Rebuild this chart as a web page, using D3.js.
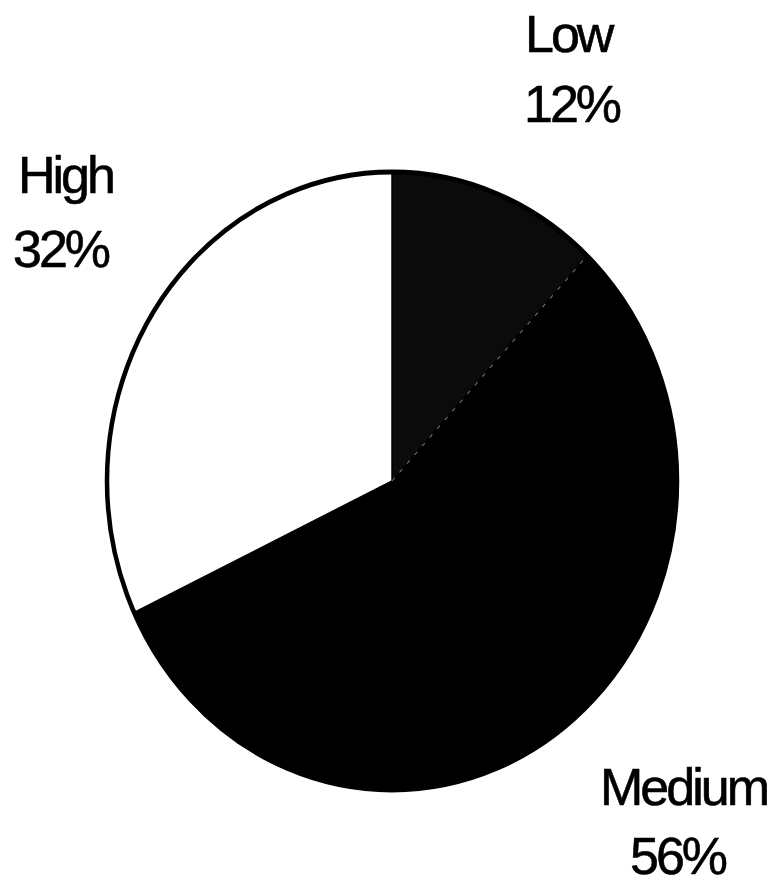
<!DOCTYPE html>
<html>
<head>
<meta charset="utf-8">
<script src="https://cdn.jsdelivr.net/npm/d3@7"></script>
<style>
  body { margin: 0; background: #fff; }
  .lbl { font-family: "Liberation Sans", Arial, Helvetica, sans-serif; font-size: 52px; letter-spacing: -3px; fill: #000; stroke: #000; stroke-width: 0.6px; }
</style>
</head>
<body>
<svg id="chart" width="773" height="886"></svg>
<script>
// data
var categories = ["Low", "Medium", "High"];
var values = [12, 56, 32];
var colors = ["#0b0b0b", "#000000", "#ffffff"];

// layout
var width = 773, height = 886;
var cx = 392, cy = 481;
var rx = 285, ry = 309;
// label anchors: [name x, name baseline, pct x, pct baseline]
var labelPos = {
  Low:    [525, 52, 524, 122],
  Medium: [600, 805, 630, 874],
  High:   [18, 193, 13, 267]
};

var svg = d3.select("#chart");

var pie = d3.pie().sort(null).value(function(d) { return d; });
var arcs = pie(values);
var arc = d3.arc().innerRadius(0).outerRadius(rx);

var g = svg.append("g")
  .attr("transform", "translate(" + cx + "," + cy + ") scale(1," + (ry / rx) + ")");

g.selectAll("path.slice").data(arcs).enter().append("path")
  .attr("class", "slice")
  .attr("d", arc)
  .style("fill", function(d, i) { return colors[i]; })
  .style("stroke", "#000")
  .style("stroke-width", 1.5);

// faint scanned edge between Low and Medium
var edge = arcs[0].endAngle;
g.append("line")
  .attr("x1", 0).attr("y1", 0)
  .attr("x2", rx * Math.sin(edge)).attr("y2", -rx * Math.cos(edge))
  .style("stroke", "#777")
  .style("stroke-width", 1)
  .style("stroke-dasharray", "4,7");

// outer border
g.append("ellipse")
  .attr("cx", 0).attr("cy", 0).attr("rx", rx).attr("ry", rx)
  .style("fill", "none")
  .style("stroke", "#000")
  .style("stroke-width", 4.5);

// labels
categories.forEach(function(c, i) {
  var p = labelPos[c];
  svg.append("text").attr("class", "lbl").attr("x", p[0]).attr("y", p[1]).text(c);
  svg.append("text").attr("class", "lbl").attr("x", p[2]).attr("y", p[3]).text(values[i] + "%");
});
</script>
</body>
</html>
